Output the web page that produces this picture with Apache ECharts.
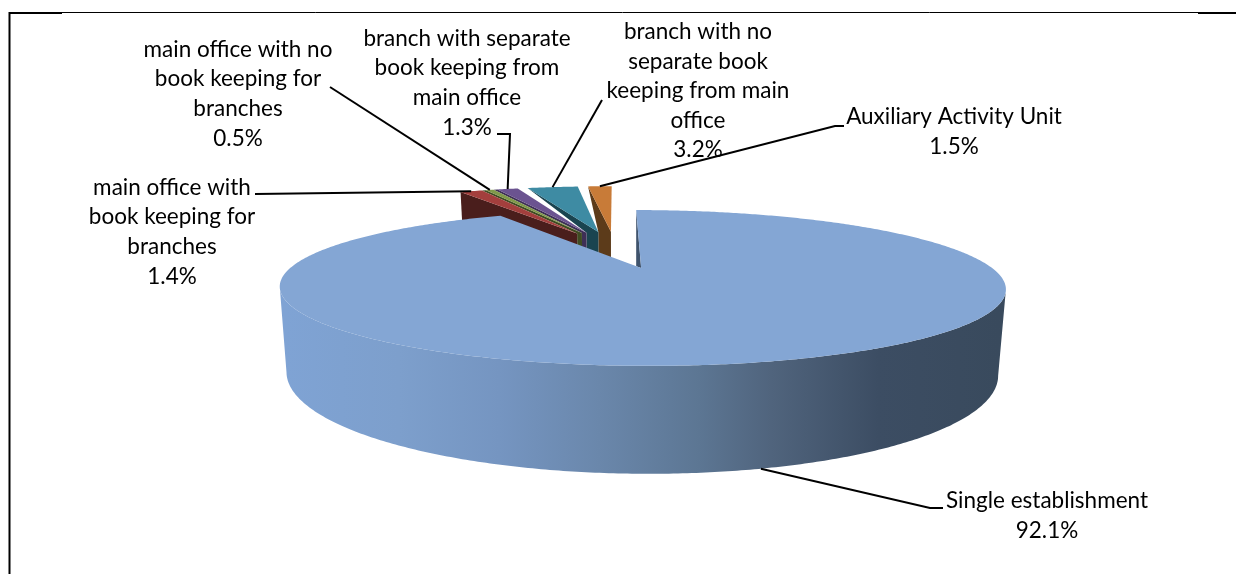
<!DOCTYPE html>
<html><head><meta charset="utf-8">
<style>html,body{margin:0;padding:0;background:#fff}#c{width:1236px;height:574px}</style>
<script src="https://cdn.jsdelivr.net/npm/echarts@6/dist/echarts.min.js"></script>
</head><body><div id="c"></div>
<script>
// --- data ---
const categories = [
  'Single establishment',
  'main office with\nbook keeping for\nbranches',
  'main office with no\nbook keeping for\nbranches',
  'branch with separate\nbook keeping from\nmain office',
  'branch with no\nseparate book\nkeeping from main\noffice',
  'Auxiliary Activity Unit'
];
const shares = [92.1, 1.4, 0.5, 1.3, 3.2, 1.5];
const topColors = ['#84A6D4', '#A33F3D', '#80994A', '#6B5390', '#3E8BA3', '#C87B38'];
const sideColors = ['#3A4A5E', '#4A1E1C', '#3F4C22', '#3E2F56', '#1A4450', '#5C3B1A'];
// --- layout of labels: centre of text block, leader path after its slice anchor ---
const labelCentres = [[1047,516],[172,232],[238,94],[467,83],[698,91],[954,132]];
const leaderPaths = [
  [[930,508],[943,508]],
  [[255,194]],
  [[330,87]],
  [[510,134],[497,134]],
  [[602,100]],
  [[835,126],[844,126]]
];
const touchingNeighbour = [2,3];
// --- projection ---
const P = {ox:617, oy:249.5, rx:328, ry:63.6, k:0.24, explode:0.28, h:75, shrink:0.98, backDx:-2, backDy:-1};
const total = shares.reduce((a,b)=>a+b,0);
const spans = []; let acc = 0;
shares.forEach(s=>{ const a0=acc/total*Math.PI*2; acc+=s; spans.push([a0,acc/total*Math.PI*2]); });
function project(u,v,low){
  const den=1-P.k*v;
  const x=u/den*P.rx, y=P.oy+P.ry*v/den;
  return low ? [P.ox+x*P.shrink, y+P.h/den] : [P.ox+x, y];
}
function slicePt(i,a,r,low){
  const m=(spans[i][0]+spans[i][1])/2;
  const u=P.explode*Math.sin(m)+r*Math.sin(a);
  const v=-P.explode*Math.cos(m)-r*Math.cos(a);
  const p=project(u,v,low);
  return i===0 ? p : [p[0]+P.backDx,p[1]+P.backDy];
}
function arc(i,a0,a1,low){
  const n=Math.max(2,Math.ceil(Math.abs(a1-a0)/0.01)),pts=[];
  for(let j=0;j<=n;j++) pts.push(slicePt(i,a0+(a1-a0)*j/n,1,low));
  return pts;
}
const paint=[5,4,3,2,1,0]; // back to front
function poly(points,fill,z2){
  return {type:'polygon',z2,shape:{points},style:{fill,stroke:null}};
}
function renderSlice(params){
  const i=params.dataIndex, [a0,a1]=spans[i];
  const z=paint.indexOf(i)*10, ch=[];
  const A=slicePt(i,0,0,false), Alow=slicePt(i,0,0,true);
  if(i===0){
    const topArc=arc(0,a0,a1,false), lowArc=arc(0,a0,a1,true);
    const ext=pts=>{let r=0,l=0;pts.forEach((p,j)=>{if(p[0]>pts[r][0])r=j;if(p[0]<pts[l][0])l=j;});return [r,l];};
    const [tr,tl]=ext(topArc), [br,bl]=ext(lowArc);
    const side=topArc.slice(tr,tl+1).concat(lowArc.slice(br,bl+1).reverse());
    ch.push(poly(side,{type:'linear',x:285,y:0,x2:1000,y2:0,global:true,colorStops:[
      {offset:0,color:'#7FA3D4'},{offset:0.16,color:'#7D9FCC'},{offset:0.3,color:'#7595C1'},
      {offset:0.44,color:'#6A87AB'},{offset:0.58,color:'#5C7693'},{offset:0.68,color:'#50647D'},
      {offset:0.83,color:'#3C4D63'},{offset:1,color:'#394A5D'}]},z));
    const T=slicePt(0,a0,1,false), L=slicePt(0,a1,1,false);
    const notch=[A[0]+(L[0]-A[0])*0.035,A[1]+(L[1]-A[1])*0.035];
    ch.push(poly([T,A,notch],'#3F536C',z+1));
    ch.push(poly([A].concat(topArc),topColors[0],z+2));
  } else {
    const T1=slicePt(i,a0,1,false);
    const next=i-1;
    let rest;
    if(next===0){ rest=[slicePt(i,a0,1,true)]; }
    else {
      rest=[slicePt(next,0,0,true),slicePt(next,0,0,false)];
      if(touchingNeighbour.includes(i)) rest.push(slicePt(next,spans[next][1],1,false));
    }
    ch.push(poly([T1,A,Alow].concat(rest),sideColors[i],z));
    ch.push(poly([A].concat(arc(i,a0,a1,false)),topColors[i],z+1));
  }
  // leader
  const m=(a0+a1)/2;
  const start=i===0?slicePt(0,m,1,true):slicePt(i,m,1,false);
  ch.push({type:'polyline',z2:100,shape:{points:[start].concat(leaderPaths[i])},
    style:{stroke:'#000',lineWidth:2,fill:null}});
  // label
  ch.push({type:'text',z2:110,x:labelCentres[i][0],y:labelCentres[i][1],
    style:{text:categories[i]+'\n'+shares[i].toFixed(1)+'%',align:'center',verticalAlign:'middle',
      fill:'#000',font:'22.5px Lato, "Open Sans", sans-serif',lineHeight:29.6}});
  return {type:'group',children:ch};
}
const chart=echarts.init(document.getElementById('c'),null,{renderer:'canvas'});
chart.setOption({
  animation:false,backgroundColor:'#fff',
  graphic:[
    {type:'line',shape:{x1:9,y1:12.5,x2:1236,y2:12.5},style:{stroke:'#000',lineWidth:1}},
    {type:'line',shape:{x1:9,y1:13,x2:62,y2:13},style:{stroke:'#000',lineWidth:2}},
    {type:'line',shape:{x1:1198,y1:13,x2:1236,y2:13},style:{stroke:'#000',lineWidth:2}},
    {type:'line',shape:{x1:9.5,y1:12,x2:9.5,y2:574},style:{stroke:'#000',lineWidth:2}}
  ],
  series:[{type:'custom',coordinateSystem:'none',silent:true,clip:false,
    data:shares.map((v,i)=>({name:categories[i],value:v})),
    renderItem:renderSlice}]
});
</script></body></html>
